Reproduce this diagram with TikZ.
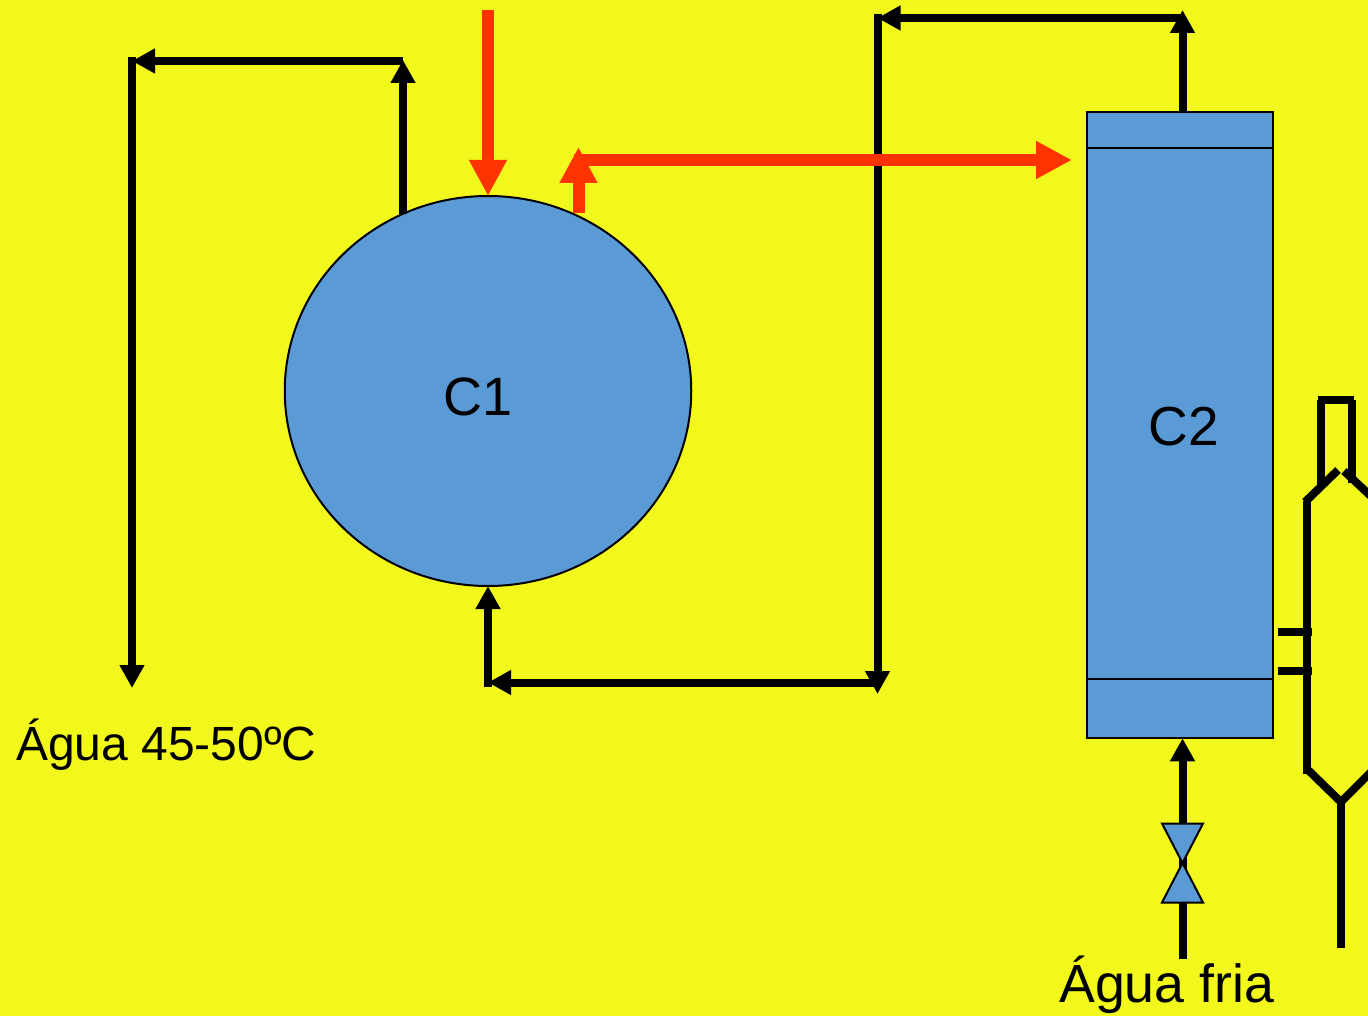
\documentclass[tikz,border=0pt]{standalone}
\usepackage{fontspec}
\setmainfont{Liberation Sans}
\usetikzlibrary{arrows.meta,shapes.geometric}
\definecolor{bgy}{HTML}{F2F81C}
\definecolor{vessel}{HTML}{5B9BD5}
\definecolor{hot}{HTML}{FF3300}
\tikzset{
  blk/.style={draw=black,line width=8pt,line cap=butt,line join=miter},
  blkarrow/.style={blk,-{Triangle[length=23pt,width=23.5pt]}},
  redline/.style={draw=hot,line width=12pt,line cap=butt},
  redarrow/.style={redline,-{Triangle[length=36pt,width=35.5pt]}},
  thick part/.style={draw=black,line width=2pt,fill=vessel},
  lab/.style={inner sep=0pt,text=black}
}
\begin{document}
\begin{tikzpicture}[x=1pt,y=-1pt]
\useasboundingbox (0,0) rectangle (1368,1016);
\clip (0,0) rectangle (1368,1016);
\fill[bgy] (0,0) rectangle (1368,1016);

% named free ends
\coordinate (a1) at (403,214);
\coordinate (a2) at (403,60);
\coordinate (a3) at (403,61);
\coordinate (a4) at (132,61);
\coordinate (a5) at (132,57);
\coordinate (a6) at (132,688);
\coordinate (b0) at (1182.5,112);
\coordinate (b1) at (1182.5,10);
\coordinate (b2) at (1182.5,18);
\coordinate (b3) at (877.5,18);
\coordinate (b4) at (877.5,14);
\coordinate (b5) at (877.5,694);
\coordinate (b6) at (877.5,682.5);
\coordinate (b7) at (488,682.5);
\coordinate (b8) at (488,687);
\coordinate (r1) at (488,10);
\coordinate (r2) at (578.5,213);
\coordinate (r2t) at (578.5,147);
\coordinate (r3) at (574,160);
\coordinate (r4) at (1072,160);
\coordinate (w1) at (1182.5,959);

% vessels
\node[ellipse,thick part,inner sep=0pt,outer sep=0pt,minimum width=406.5pt,minimum height=390pt] (c1) at (488,391) {};
\node[lab,font=\fontsize{54}{60}\selectfont] (c1t) at (478,396.5) {C1};
\node[rectangle,thick part,inner sep=0pt,outer sep=0pt,minimum width=186.5pt,minimum height=626.5pt] (c2) at (1180,425) {};
\draw[black,line width=1.8pt] (c2.west |- 0,148.2) coordinate (l1) -- (c2.east |- 0,148.2) coordinate (l2);
\draw[black,line width=1.8pt] (c2.west |- 0,679.2) coordinate (l3) -- (c2.east |- 0,679.2) coordinate (l4);
\node[lab,font=\fontsize{55}{60}\selectfont] (c2t) at (1184,427) {C2};

% black circuit left
\draw[blkarrow] (a1) -- (a2);
\draw[blkarrow] (a3) -- (a4);
\draw[blkarrow] (a5) -- (a6);

% black circuit right
\draw[blkarrow] (b0) -- (b1);
\draw[blkarrow] (b2) -- (b3);
\draw[blkarrow] (b4) -- (b5);
\draw[blkarrow] (b6) -- (b7);
\draw[blkarrow] (b8) -- (c1.south);

% red lines
\draw[redarrow] (r1) -- (c1.north);
\draw[redarrow] (r2) -- (r2t);
\draw[redarrow] (r3) -- (r4);

% cold water line and valve
\draw[blkarrow] (w1) -- (c2.south -| w1);
\coordinate (v) at (1182.5,863);
\draw[thick part] (1162,823.5) -- (1203,823.5) -- (v) -- cycle;
\draw[thick part] (1162,902.5) -- (1203,902.5) -- (v) -- cycle;

% right-hand apparatus
\draw[blk] (1321,485) -- (1321,400) ;
\draw[blk] (1318,400) -- (1354,400);
\draw[blk] (1352,400) -- (1352,483);
\draw[blk] (1305,502) -- (1338,470);
\draw[blk] (1344,471) -- (1375,500);
\draw[blk] (1307,501) -- (1307,774);
\draw[blk] (1306,768) -- (1343,804);
\draw[blk] (1339,804) -- (1375,768);
\draw[blk] (1341,800) -- (1341,948);
\draw[blk] (1278,632) -- (1312,632);
\draw[blk] (1278,671) -- (1312,671);

% labels
\node[lab,anchor=west,font=\fontsize{48}{55}\selectfont] (t1) at (16,745) {Água 45-50ºC};
\node[lab,anchor=west,font=\fontsize{53.7}{60}\selectfont] (t2) at (1059,985) {Água fria};
\end{tikzpicture}
\end{document}
